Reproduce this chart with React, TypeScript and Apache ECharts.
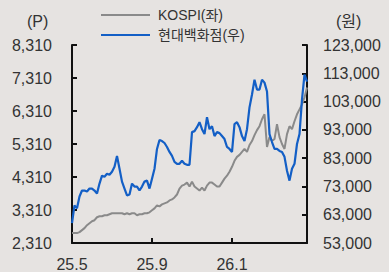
import React, { useEffect, useRef } from "react";
import * as echarts from "echarts";

// Month labels along the x axis (8 samples per month)
const months = ["25.5", "25.6", "25.7", "25.8", "25.9", "25.10", "25.11", "25.12", "26.1", "26.2", "26.3", "26.4"];
const pointsPerMonth = 8;
const labeledMonths = ["25.5", "25.9", "26.1"];

// KOSPI (left axis, points)
const kospi = [
  2610, 2610, 2610, 2640, 2700, 2760, 2850, 2910, 2970, 3000,
  3090, 3120, 3120, 3150, 3150, 3180, 3210, 3210, 3210, 3210,
  3210, 3180, 3210, 3180, 3210, 3210, 3150, 3180, 3180, 3210,
  3210, 3240, 3300, 3360, 3450, 3420, 3480, 3510, 3540, 3600,
  3630, 3690, 3780, 3960, 4050, 4080, 4140, 4020, 4170, 4020,
  3960, 3900, 3990, 3900, 4050, 4140, 4140, 4080, 4020, 4020,
  4140, 4260, 4350, 4470, 4620, 4800, 4920, 4980, 5070, 5160,
  5070, 5280, 5400, 5580, 5730, 5850, 6060, 6210, 5220, 5520,
  5400, 5460, 5910, 5520, 5310, 5160, 5610, 5850, 5760, 6000,
  6210, 6360, 6510, 6720, 7020,
];

// Hyundai Department Store (right axis, won)
const hyundai = [
  60000, 66300, 65250, 69450, 71550, 71550, 71200, 72250, 72250, 71550,
  70500, 74000, 76800, 76450, 77500, 77150, 78200, 79950, 83800, 79250,
  74700, 72250, 69800, 70150, 74000, 72950, 72950, 71550, 72950, 74700,
  75050, 72250, 75750, 79250, 86250, 89400, 89050, 88350, 86950, 85200,
  83800, 81700, 81000, 81000, 82050, 81000, 80650, 80650, 92200, 92550,
  93950, 95700, 93250, 91500, 97450, 93250, 94300, 90800, 92200, 91850,
  90800, 89750, 86950, 86250, 85200, 95000, 95700, 93950, 90800, 89050,
  93250, 100950, 105500, 110750, 107250, 107250, 110750, 109700, 106550, 91500,
  88700, 86250, 86250, 85550, 85200, 83450, 78550, 75050, 79250, 81000,
  88000, 91500, 103750, 112500, 110050,
];

const leftMin = 2310;
const leftMax = 8310;
const leftStep = 1000;
const rightMin = 53000;
const rightMax = 123000;
const rightStep = 10000;

const categories = months
  .flatMap((m) => Array.from({ length: pointsPerMonth }, (_, k) => (k === 0 ? m : `${m}/${k}`)))
  .slice(0, kospi.length);

const FONT = "'Liberation Sans', Arial, 'Noto Sans CJK KR', sans-serif";
const TEXT = "#333333";
const AXIS = "#111111";
const GRAY = "#8A8A8A";
const BLUE = "#135FC6";

export default function App() {
  const ref = useRef<HTMLDivElement>(null);

  useEffect(() => {
    document.body.style.margin = "0";
    const chart = echarts.init(ref.current!, null, { renderer: "svg" });
    const fmt = (v: number) => v.toLocaleString("en-US");
    chart.setOption({
      animation: false,
      backgroundColor: "#E6E3E1",
      textStyle: { fontFamily: FONT },
      grid: { left: 72, right: 82, top: 45, bottom: 27, containLabel: false },
      legend: {
        orient: "vertical",
        left: 101,
        top: 8,
        padding: 0,
        icon: "rect",
        itemWidth: 49,
        itemHeight: 2,
        itemGap: 6,
        textStyle: { fontSize: 14, lineHeight: 14, color: TEXT, fontFamily: FONT, padding: [0, 0, 0, 3] },
        data: [
          { name: "KOSPI(좌)", itemStyle: { color: GRAY } },
          { name: "현대백화점(우)", itemStyle: { color: BLUE } },
        ],
      },
      graphic: [
        { type: "text", left: 27, top: 13, style: { text: "(P)", fontSize: 16, fill: TEXT, fontFamily: FONT } },
        { type: "text", left: 336, top: 13, style: { text: "(원)", fontSize: 16, fill: TEXT, fontFamily: FONT } },
      ],
      xAxis: {
        type: "category",
        data: categories,
        boundaryGap: false,
        axisLine: { show: true, lineStyle: { color: AXIS, width: 2 } },
        axisTick: {
          show: true,
          inside: true,
          length: 5,
          lineStyle: { color: AXIS, width: 2 },
          interval: (i: number, v: string) => labeledMonths.includes(v) && i > 0,
        },
        axisLabel: {
          interval: (i: number, v: string) => labeledMonths.includes(v),
          fontSize: 16,
          color: TEXT,
          margin: 13,
          fontFamily: FONT,
        },
        splitLine: { show: false },
      },
      yAxis: [
        {
          type: "value",
          position: "left",
          min: leftMin,
          max: leftMax,
          interval: leftStep,
          axisLine: { show: true, lineStyle: { color: AXIS, width: 2 } },
          axisTick: { show: true, inside: true, length: 5, lineStyle: { color: AXIS, width: 2 } },
          axisLabel: { formatter: fmt, fontSize: 16, color: TEXT, margin: 20, fontFamily: FONT },
          splitLine: { show: false },
        },
        {
          type: "value",
          position: "right",
          min: rightMin,
          max: rightMax,
          interval: rightStep,
          axisLine: { show: true, lineStyle: { color: AXIS, width: 2 } },
          axisTick: { show: true, inside: true, length: 5, lineStyle: { color: AXIS, width: 2 } },
          axisLabel: { formatter: fmt, fontSize: 16, color: TEXT, margin: 16, fontFamily: FONT },
          splitLine: { show: false },
        },
      ],
      series: [
        {
          name: "KOSPI(좌)",
          type: "line",
          data: kospi,
          yAxisIndex: 0,
          symbol: "none",
          lineStyle: { color: GRAY, width: 2 },
          itemStyle: { color: GRAY },
        },
        {
          name: "현대백화점(우)",
          type: "line",
          data: hyundai,
          yAxisIndex: 1,
          symbol: "none",
          lineStyle: { color: BLUE, width: 2.2 },
          itemStyle: { color: BLUE },
        },
      ],
    });
    return () => chart.dispose();
  }, []);

  return (
    <div
      ref={ref}
      style={{ position: "fixed", left: 0, top: 0, width: 389, height: 272, background: "#E6E3E1" }}
    />
  );
}
